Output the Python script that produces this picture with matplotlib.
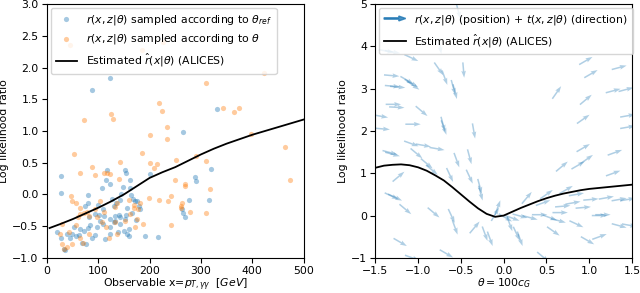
import numpy as np
import matplotlib
matplotlib.use("Agg")
import matplotlib.pyplot as plt
import matplotlib.patches as mpatches
from matplotlib.legend_handler import HandlerPatch

plt.rcParams["font.size"] = 7.8
plt.rcParams["xtick.major.pad"] = 2.5
plt.rcParams["ytick.major.pad"] = 2.5

# left panel: samples (pT [GeV], log r)
ref_x = [27.9, 27.3, 88, 122, 265, 331, 27.3, 32.5, 34.4, 19.5, 39, 48.7, 57.1, 61.7,
         68.2, 76.6, 88.3, 93.5, 83.1, 79.2, 64.9, 74.7, 79.2, 79.2, 107.1, 102, 103.9,
         109.1, 111.7, 109.1, 115.6, 122.1, 126.6, 133.1, 123.4, 133.1, 113.6, 122.1,
         129.9, 142.9, 144.2, 148.1, 152.6, 154.6, 162.4, 161.1, 163.7, 167.5, 172,
         175.3, 178.6, 181.8, 142.9, 152.6, 154.6, 155.9, 159.1, 159.1, 155.9, 142.9,
         174, 191.6, 215.6, 200, 137.7, 149.4, 52, 45.5, 71.4, 81.2, 94.2, 98.7, 97.4,
         123.4, 129.9, 135.1, 140.9, 289, 289.6, 319.5, 315, 276, 269.5, 265, 263,
         165.6, 116.5]
ref_y = [0.29, 0.03, 1.65, 1.83, 0.98, 1.34, -0.68, -0.86, -0.875, -0.60, -0.625, -0.625,
         -0.66, -0.64, -0.77, -0.78, -0.68, -0.64, -0.49, -0.53, -0.54, -0.18, -0.13,
         -0.01, 0.10, -0.32, -0.42, -0.23, -0.34, -0.46, 0.23, 0.17, -0.08, -0.34, -0.39,
         -0.42, -0.70, -0.63, -0.44, -0.09, 0.0, 0.115, 0.39, 0.34, 0.23, 0.10, -0.01,
         -0.08, -0.10, -0.10, -0.18, -0.23, -0.47, -0.39, -0.32, -0.625, -0.65, -0.55,
         -0.22, -0.36, -0.41, -0.65, -0.67, 0.32, -0.59, -0.57, -0.52, -0.68, -0.57,
         -0.36, -0.31, -0.16, -0.52, -0.52, -0.18, -0.13, -0.33, 0.28, 0.21, 0.40, -0.09,
         -0.09, -0.35, -0.29, -0.23, -0.29, 0.38]

theta_x = [44, 226, 185, 73, 125, 128, 218, 224, 234, 201, 234, 309, 343, 365, 375, 422,
           397, 463, 53.2, 64.9, 87.7, 92.9, 110.4, 123.4, 141.6, 139.6, 200, 214.3, 209.1,
           185.1, 252, 248.7, 290.3, 198.1, 217.5, 159.1, 168.8, 181.8, 161, 152.6, 172.1,
           133.1, 136.4, 120.1, 115.6, 107.1, 97.4, 81.2, 64.9, 59.7, 55.8, 46.8, 48.7,
           57.1, 63.6, 71.4, 77.9, 94.2, 102.6, 110.4, 29.2, 26, 29.9, 32.5, 39, 42.2, 48.7,
           70.1, 81.2, 64.9, 175.3, 176.6, 168.8, 136.4, 133.1, 235.1, 242.2, 241.6, 187,
           263, 261.7, 261.7, 269.5, 279.2, 310.4, 316.9, 310.4, 474.1, 269.5, 116.5]
theta_y = [2.35, 2.40, 2.27, 1.17, 1.26, 1.19, 1.44, 1.32, 1.06, 0.93, 0.87, 1.76, 1.36,
           1.30, 1.37, 1.91, 0.95, 0.74, 0.64, 0.34, 0.43, 0.30, 0.34, 0.32, 0.51, 0.25,
           0.49, 0.48, 0.41, 0.66, 0.55, 0.22, 0.60, -0.05, -0.09, -0.09, -0.21, -0.14,
           -0.31, -0.42, -0.51, -0.43, -0.63, -0.68, -0.52, -0.44, -0.36, -0.34, -0.31,
           -0.36, -0.48, -0.03, -0.10, -0.14, -0.21, -0.29, -0.28, -0.23, -0.10, -0.27,
           -0.47, -0.63, -0.78, -0.86, -0.83, -0.60, -0.78, -0.77, -0.63, -0.68, -0.39,
           -0.23, -0.16, -0.13, -0.20, -0.10, -0.02, -0.49, -0.47, -0.13, -0.18, -0.22,
           0.16, -0.27, 0.53, 0.08, -0.30, 0.22, 0.13, 0.33]

fit_x = [5, 25, 50, 75, 100, 125, 150, 175, 200, 225, 250, 275, 300, 325, 350, 375, 400,
         425, 450, 475, 500]
fit_y = [-0.53, -0.47, -0.39, -0.30, -0.21, -0.11, 0.0, 0.13, 0.26, 0.35, 0.43, 0.53,
         0.63, 0.72, 0.80, 0.87, 0.94, 1.0, 1.06, 1.12, 1.18]

# right panel: arrows (theta, log r, direction in degrees)
arr_x = [-1.37, -1.30, -1.08, -0.745, -0.53, -0.47, -0.76, -0.69, -0.59, -0.57, -1.31,
         -1.30, -1.24, -1.13, -1.08, -1.06, -1.29, -1.25, -0.96, -1.44, -1.06, -0.71,
         -0.70, -1.42, -0.35,
         -1.33, -1.30, -1.08, -0.94, -0.78, -1.02, -0.90, -0.84, -0.55, -0.40, -0.63,
         -0.40, -0.28, -0.27, -1.23, -1.31, -1.27, -1.15, -0.82, -0.61, -0.57, -0.34,
         -0.22, -0.16, -0.07, -0.10, -1.21, -0.67, -1.07,
         0.96, 1.02, 1.35, 0.62, 1.28, 1.43, 0.96, 0.93, 1.45, 1.45, 0.93, 1.30, 0.97,
         0.87, 0.68, 1.28, 0.27, 0.50, 0.73, 0.85, 1.02, 1.20, 1.35, 0.46, 0.69, 0.81,
         0.93, 0.19, 0.31, 0.42, 0.54, 0.66, 0.64, 1.16, 1.12, 0.85, 1.35, 0.58, 1.12,
         0.98, 0.07, 0.15, 0.19, 0.46, 1.47, 1.45, 0.02, 0.10]
arr_y = [3.89, 3.87, 3.73, 4.0, 4.83, 3.44, 3.47, 3.26, 3.03, 2.93, 3.31, 3.06, 3.04,
         3.2, 3.13, 3.08, 2.63, 2.56, 2.47, 2.35, 2.16, 2.16, 2.08, 2.05, 2.0,
         1.49, 1.45, 1.70, 1.66, 1.58, 1.47, 1.23, 1.08, 1.31, 1.39, 0.96, 0.92, 0.69,
         0.53, 0.92, 0.46, 0.43, 0.15, 0.07, -0.01, -0.28, -0.28, -0.43, -0.55, 0.19,
         0.03, -0.63, -0.90, -1.0,
         3.66, 3.35, 3.50, 2.91, 2.95, 2.98, 2.74, 2.28, 2.36, 2.09, 1.60, 1.49, 1.33,
         1.19, 1.16, 1.0, 0.42, 0.50, 0.61, 0.50, 0.38, 0.42, 0.38, 0.30, 0.22, 0.30,
         0.19, -0.01, -0.05, 0.02, -0.05, 0.07, -0.12, 0.02, 0.0, -0.2, -0.24, -0.37,
         -0.5, -0.59, -0.2, -0.43, -0.55, -0.98, -0.23, 0.38, -0.05, -0.06]
arr_ang = [-10, -10, -25, -80, -75, -85, -55, -70, -75, -75, -5, -5, -5, -30, -30, -35,
           0, -3, -40, -10, 0, -75, -70, -5, -80,
           -15, -15, -20, -10, -10, -40, -40, -40, -70, -75, -65, -65, -75, -75, 40,
           -25, -25, -40, -40, -65, -70, 50, -70, -70, 70, 60, -30, -30, -20,
           30, 30, 15, 55, 15, 15, 40, 35, 10, 10, 30, 20, 35, 30, 40, 20, 50, 35, 30,
           10, 5, 10, 10, 20, 5, 10, 5, -15, -15, 0, -20, 0, -15, 0, 0, -25, -15, -35,
           20, -30, -70, -65, -70, -40, -10, 10, -30, -20]

alices_x = [-1.5, -1.4, -1.3, -1.2, -1.1, -1.0, -0.9, -0.8, -0.7, -0.6, -0.5, -0.4, -0.3,
            -0.2, -0.1, 0.0, 0.1, 0.2, 0.3, 0.4, 0.5, 0.6, 0.7, 0.8, 0.9, 1.0, 1.1, 1.2,
            1.3, 1.4, 1.5]
alices_y = [1.13, 1.18, 1.20, 1.21, 1.19, 1.14, 1.06, 0.95, 0.83, 0.67, 0.50, 0.33, 0.17,
            0.04, -0.03, 0.0, 0.09, 0.18, 0.26, 0.34, 0.41, 0.47, 0.52, 0.56, 0.60, 0.63,
            0.65, 0.67, 0.69, 0.71, 0.73]

fig, (ax1, ax2) = plt.subplots(1, 2, figsize=(6.4, 2.93), dpi=100)
fig.subplots_adjust(left=0.0734, right=0.9875, bottom=0.12, top=0.986, wspace=0.28)

ax1.scatter(ref_x, ref_y, s=14, color="C0", alpha=0.4, linewidths=0,
            label=r"$r(x,z|\theta)$ sampled according to $\theta_{ref}$")
ax1.scatter(theta_x, theta_y, s=14, color="C1", alpha=0.4, linewidths=0,
            label=r"$r(x,z|\theta)$ sampled according to $\theta$")
ax1.plot(fit_x, fit_y, color="black", lw=1.3,
         label=r"Estimated $\hat{r}(x|\theta)$ (ALICES)")
ax1.set_xlim(0, 500)
ax1.set_ylim(-1.0, 3.0)
ax1.set_xlabel(r"Observable x=$p_{T,\gamma\gamma}$  $[GeV]$", labelpad=0)
ax1.set_ylabel("Log likelihood ratio", labelpad=2)
ax1.legend(loc="upper left", borderaxespad=0.35, handletextpad=0.8, borderpad=0.45)

ang = np.deg2rad(arr_ang)
ax2.quiver(arr_x, arr_y, np.cos(ang), np.sin(ang), color="C0", alpha=0.35,
           angles="uv", pivot="mid", scale_units="inches", scale=6.5,
           width=0.006, headwidth=3, headlength=4.5, headaxislength=4)
line, = ax2.plot(alices_x, alices_y, color="black", lw=1.3)
ax2.set_xlim(-1.5, 1.5)
ax2.set_ylim(-1, 5)
ax2.set_xlabel(r"$\theta = 100 c_G$", labelpad=0)
ax2.set_ylabel("Log likelihood ratio", labelpad=2)


def make_arrow(legend, orig_handle, xdescent, ydescent, width, height, fontsize):
    return mpatches.FancyArrow(0, 0.5 * height, width, 0, width=1.0, head_width=3.5,
                               head_length=5, length_includes_head=True)


proxy = mpatches.FancyArrow(0, 0, 1, 0, color="C0", alpha=0.8)
ax2.legend([proxy, line],
           [r"$r(x,z|\theta)$ (position) + $t(x,z|\theta)$ (direction)",
            r"Estimated $\hat{r}(x|\theta)$ (ALICES)"],
           handler_map={mpatches.FancyArrow: HandlerPatch(patch_func=make_arrow)},
           loc="upper left", borderaxespad=0.35, handletextpad=0.8, borderpad=0.45)

fig.savefig("out.png", dpi=100)
